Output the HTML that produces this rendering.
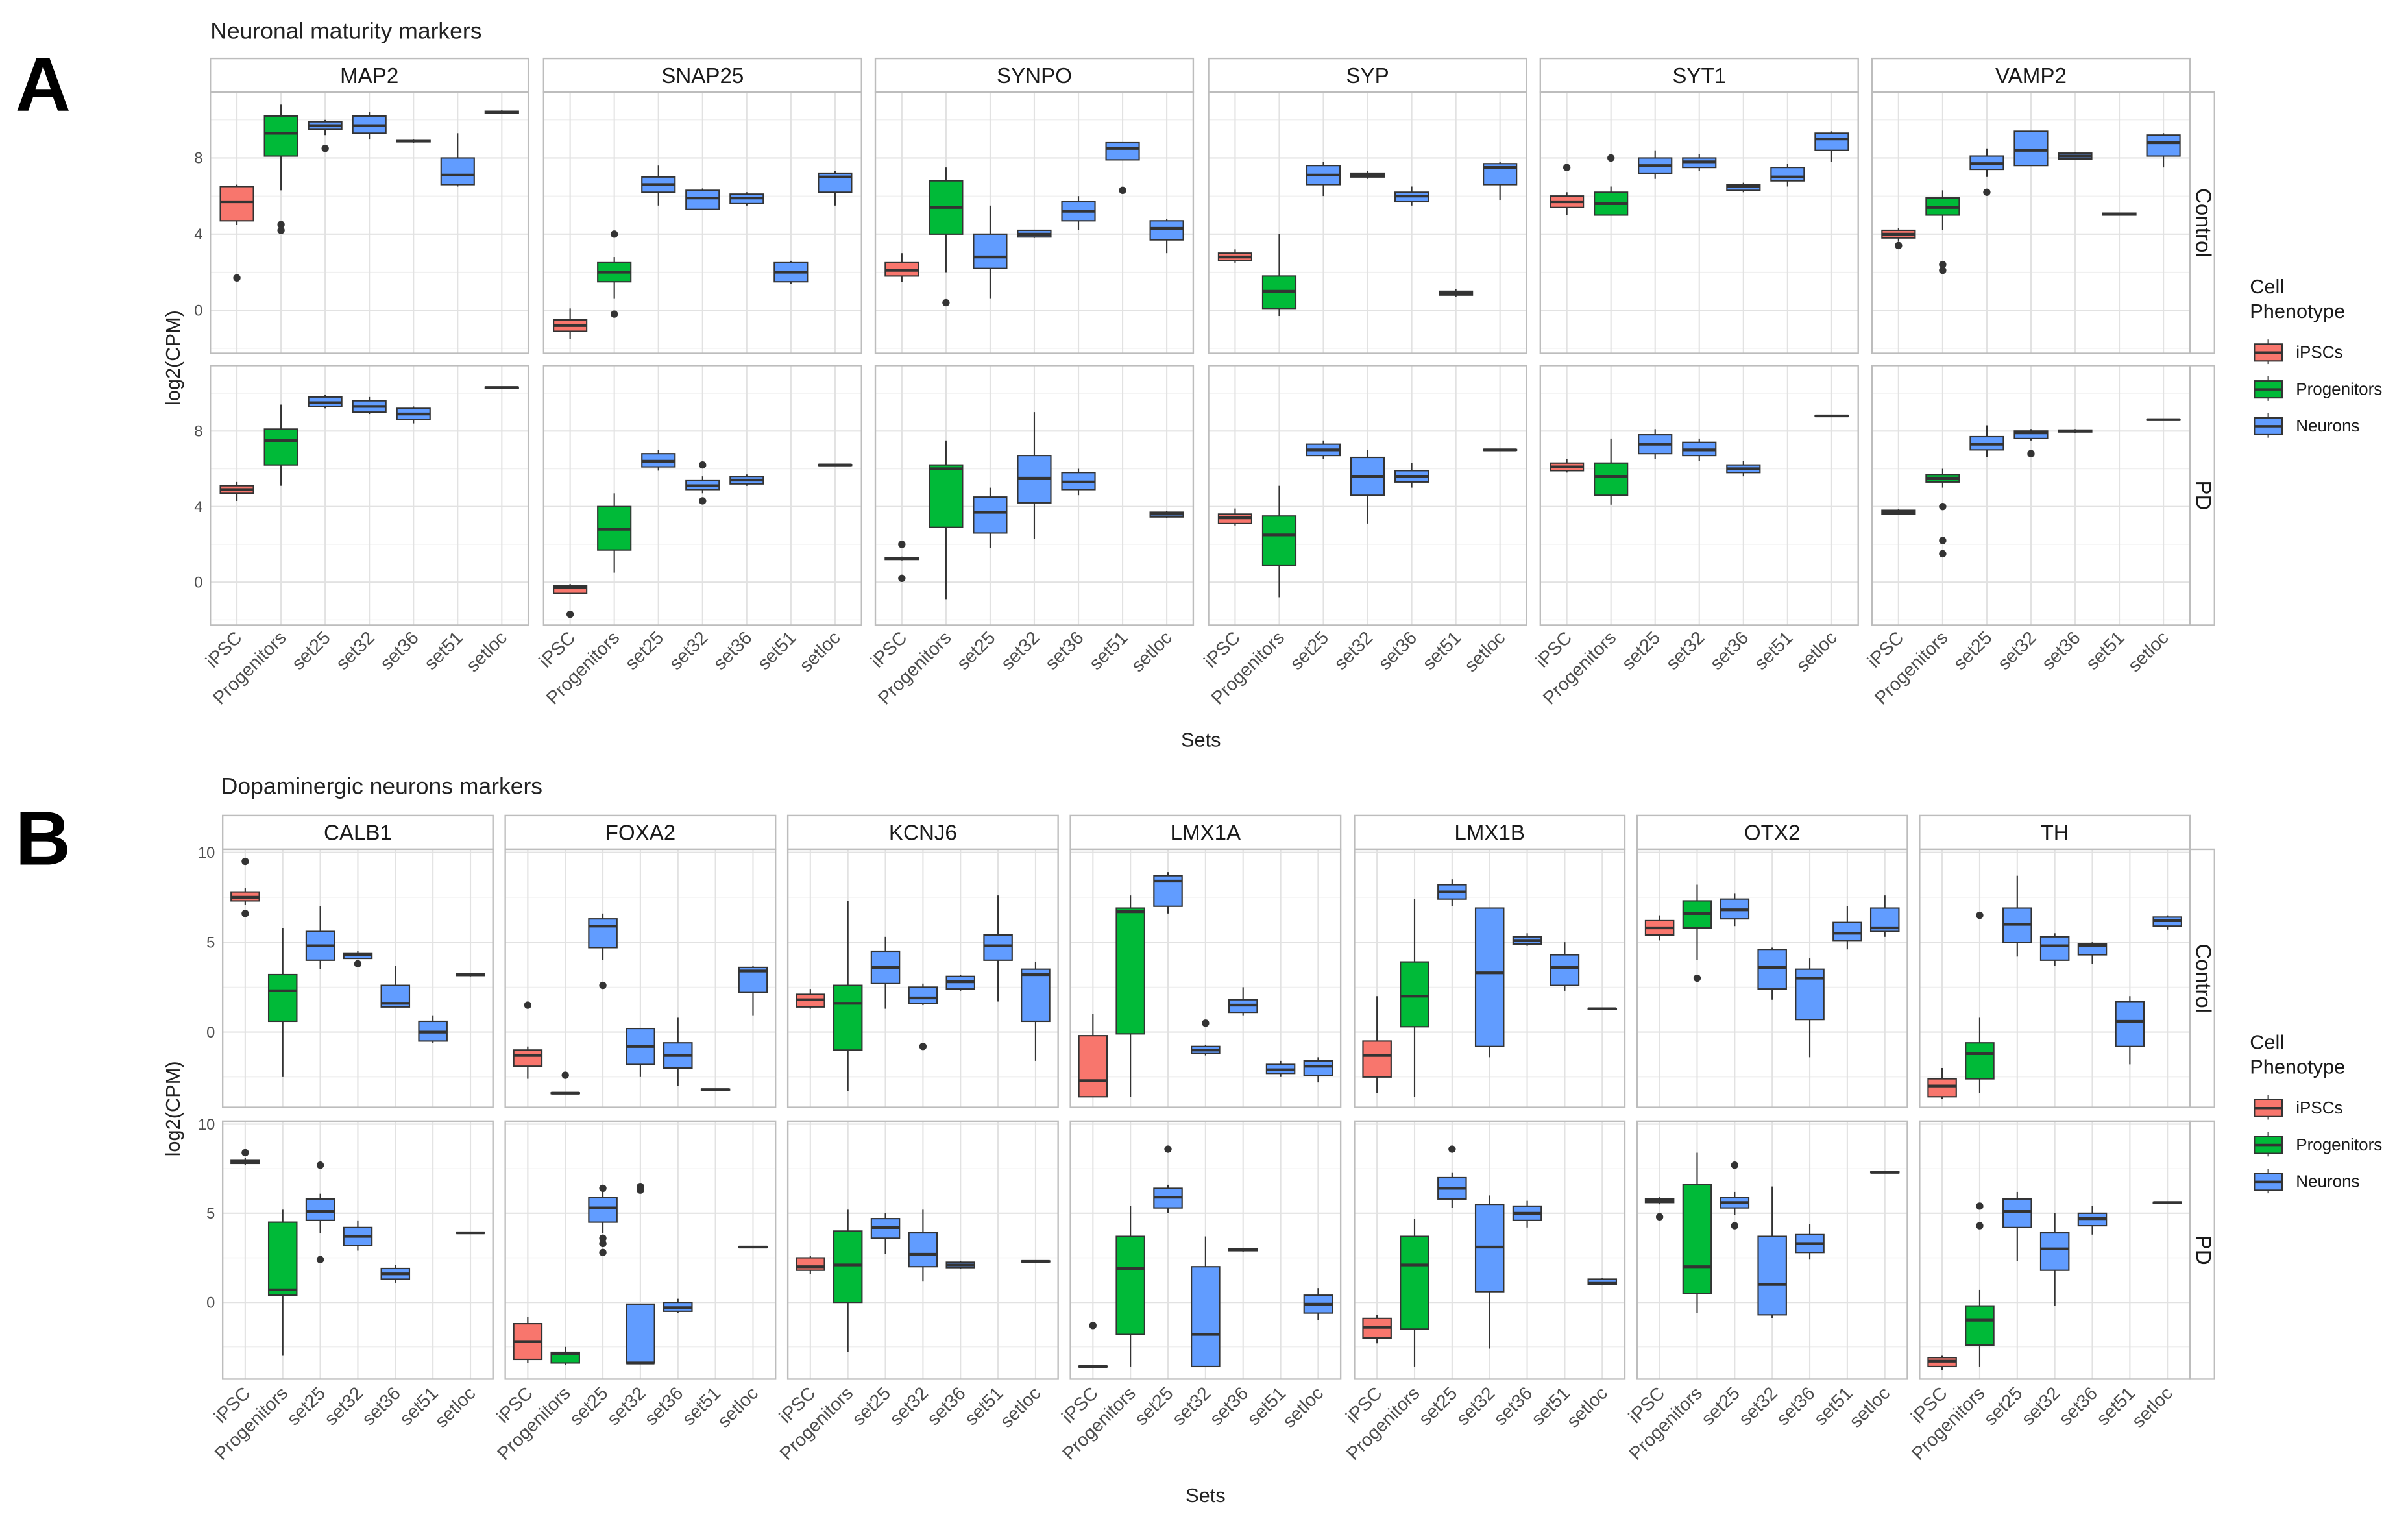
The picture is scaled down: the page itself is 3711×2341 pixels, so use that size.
<!DOCTYPE html>
<html><head><meta charset="utf-8">
<style>
html,body{margin:0;padding:0;background:#fff;}
svg{display:block;font-family:"Liberation Sans",sans-serif;}
</style></head>
<body>
<svg id="chart" width="3711" height="2341" viewBox="0 0 1568 989" xmlns="http://www.w3.org/2000/svg">
<text x="10" y="72" font-size="50" font-weight="bold">A</text>
<text x="10" y="563" font-size="50" font-weight="bold">B</text>
<text x="137" y="25" font-size="15" fill="#222">Neuronal maturity markers</text>
<text x="144" y="517" font-size="15" fill="#222">Dopaminergic neurons markers</text>
<text x="782" y="486" font-size="13" text-anchor="middle" fill="#222">Sets</text>
<text x="785" y="978" font-size="13" text-anchor="middle" fill="#222">Sets</text>
<text transform="translate(117,233) rotate(-90)" font-size="13" text-anchor="middle" fill="#222">log2(CPM)</text>
<text transform="translate(117,722) rotate(-90)" font-size="13" text-anchor="middle" fill="#222">log2(CPM)</text>
<g id="plots"></g>
</svg>
<script>
// Categories
const categories = ["iPSC","Progenitors","set25","set32","set36","set51","setloc"];
const catGroup = [0,1,2,2,2,2,2];
const groupNames = ["iPSCs","Progenitors","Neurons"];
const groupColors = ["#F8766D","#00BA38","#619CFF"];
const genesA = ["MAP2","SNAP25","SYNPO","SYP","SYT1","VAMP2"];
const genesB = ["CALB1","FOXA2","KCNJ6","LMX1A","LMX1B","OTX2","TH"];
const ticksA = [0,4,8];
const ticksB = [0,5,10];
// each box: [min, q1, median, q3, max, outliers]
const A_ctrl_MAP2 = [[4.5,4.7,5.7,6.5,6.6,[1.7]],[6.3,8.1,9.3,10.2,10.8,[4.5,4.2]],[9.2,9.5,9.7,9.9,10,[8.5]],[9,9.3,9.7,10.2,10.4,[]],[8.8,8.85,8.9,8.95,9,[]],[6.5,6.6,7.1,8,9.3,[]],[10.3,10.35,10.4,10.45,10.5,[]]];
const A_ctrl_SNAP25 = [[-1.5,-1.1,-0.8,-0.5,0.1,[]],[0.6,1.5,2,2.5,2.8,[4,-0.2]],[5.5,6.2,6.6,7,7.6,[]],[5.3,5.3,5.9,6.3,6.4,[]],[5.5,5.6,5.9,6.1,6.2,[]],[1.4,1.5,2,2.5,2.6,[]],[5.5,6.2,7,7.2,7.3,[]]];
const A_ctrl_SYNPO = [[1.5,1.8,2.1,2.5,3,[]],[2,4,5.4,6.8,7.5,[0.4]],[0.6,2.2,2.8,4,5.5,[]],[3.8,3.85,4,4.2,4.2,[]],[4.2,4.7,5.2,5.7,6,[]],[7.9,7.9,8.5,8.8,8.8,[6.3]],[3,3.7,4.3,4.7,4.8,[]]];
const A_ctrl_SYP = [[2.5,2.6,2.8,3,3.2,[]],[-0.3,0.1,1,1.8,4,[]],[6,6.6,7.1,7.6,7.8,[]],[6.9,7,7.1,7.2,7.3,[]],[5.5,5.7,6,6.2,6.5,[]],[0.7,0.8,0.9,1,1.1,[]],[5.8,6.6,7.5,7.7,7.8,[]]];
const A_ctrl_SYT1 = [[5,5.4,5.7,6,6.2,[7.5]],[5,5,5.6,6.2,6.5,[8]],[6.9,7.2,7.6,8,8.4,[]],[7.3,7.5,7.8,8,8.2,[]],[6.2,6.3,6.5,6.6,6.7,[]],[6.5,6.8,7,7.5,7.7,[]],[7.8,8.4,9,9.3,9.4,[]]];
const A_ctrl_VAMP2 = [[3.6,3.8,4,4.2,4.3,[3.4]],[4.2,5,5.4,5.9,6.3,[2.4,2.1]],[7,7.4,7.7,8.1,8.5,[6.2]],[7.6,7.6,8.4,9.4,9.4,[]],[7.9,7.95,8.1,8.25,8.3,[]],[5,5,5.05,5.1,5.1,[]],[7.5,8.1,8.8,9.2,9.3,[]]];
const A_pd_MAP2 = [[4.3,4.7,4.9,5.1,5.3,[]],[5.1,6.2,7.5,8.1,9.4,[]],[9.2,9.3,9.5,9.8,9.9,[]],[8.9,9,9.3,9.6,9.8,[]],[8.4,8.6,8.9,9.2,9.3,[]],null,[10.25,10.28,10.3,10.32,10.35,[]]];
const A_pd_SNAP25 = [[-0.6,-0.6,-0.3,-0.2,-0.1,[-1.7]],[0.5,1.7,2.8,4,4.7,[]],[5.9,6.1,6.4,6.8,7,[]],[4.7,4.9,5.1,5.4,5.6,[6.2,4.3]],[5.1,5.2,5.4,5.6,5.7,[]],null,[6.15,6.18,6.2,6.22,6.25,[]]];
const A_pd_SYNPO = [[1.15,1.2,1.25,1.3,1.35,[2,0.2]],[-0.9,2.9,6,6.2,7.5,[]],[1.8,2.6,3.7,4.5,5,[]],[2.3,4.2,5.5,6.7,9,[]],[4.6,4.9,5.3,5.8,6,[]],null,[3.4,3.45,3.6,3.7,3.75,[]]];
const A_pd_SYP = [[3,3.1,3.4,3.6,3.9,[]],[-0.8,0.9,2.5,3.5,5.1,[]],[6.5,6.7,7,7.3,7.5,[]],[3.1,4.6,5.6,6.6,7,[]],[5,5.3,5.6,5.9,6.3,[]],null,[6.95,6.98,7,7.02,7.05,[]]];
const A_pd_SYT1 = [[5.8,5.9,6.1,6.3,6.5,[]],[4.1,4.6,5.6,6.3,7.6,[]],[6.5,6.8,7.3,7.8,8.1,[]],[6.4,6.7,7,7.4,7.6,[]],[5.6,5.8,6,6.2,6.4,[]],null,[8.75,8.78,8.8,8.82,8.85,[]]];
const A_pd_VAMP2 = [[3.55,3.6,3.7,3.8,3.85,[]],[5,5.3,5.5,5.7,6,[4,2.2,1.5]],[6.6,7,7.3,7.7,8.3,[]],[7.5,7.6,7.9,8,8.1,[6.8]],[7.9,7.95,8,8.05,8.1,[]],null,[8.55,8.58,8.6,8.62,8.65,[]]];
const B_ctrl_CALB1 = [[7.1,7.3,7.5,7.8,8,[9.5,6.6]],[-2.5,0.6,2.3,3.2,5.8,[]],[3.5,4,4.8,5.6,7,[]],[4.1,4.1,4.3,4.4,4.5,[3.8]],[1.4,1.4,1.6,2.6,3.7,[]],[-0.6,-0.5,0,0.6,0.9,[]],[3.1,3.15,3.2,3.25,3.3,[]]];
const B_ctrl_FOXA2 = [[-2.6,-1.9,-1.3,-1,-0.8,[1.5]],[-3.45,-3.42,-3.4,-3.38,-3.35,[-2.4]],[4,4.7,5.9,6.3,6.6,[2.6]],[-2.5,-1.8,-0.8,0.2,0.2,[]],[-3,-2,-1.3,-0.6,0.8,[]],[-3.25,-3.22,-3.2,-3.18,-3.15,[]],[0.9,2.2,3.4,3.6,3.7,[]]];
const B_ctrl_KCNJ6 = [[1.3,1.4,1.8,2.1,2.4,[]],[-3.3,-1,1.6,2.6,7.3,[]],[1.3,2.7,3.6,4.5,5.3,[]],[1.5,1.6,1.9,2.5,2.7,[-0.8]],[2.3,2.4,2.8,3.1,3.2,[]],[1.7,4,4.8,5.4,7.6,[]],[-1.6,0.6,3.2,3.5,3.9,[]]];
const B_ctrl_LMX1A = [[-3.6,-3.6,-2.7,-0.2,1,[]],[-3.6,-0.1,6.7,6.9,7.6,[]],[6.6,7,8.4,8.7,8.9,[]],[-1.3,-1.2,-1,-0.8,-0.7,[0.5]],[0.9,1.1,1.5,1.8,2.5,[]],[-2.5,-2.3,-2.1,-1.8,-1.6,[]],[-2.8,-2.4,-1.9,-1.6,-1.4,[]]];
const B_ctrl_LMX1B = [[-3.4,-2.5,-1.3,-0.5,2,[]],[-3.6,0.3,2,3.9,7.4,[]],[7,7.4,7.8,8.2,8.5,[]],[-1.4,-0.8,3.3,6.9,6.9,[]],[4.8,4.9,5.1,5.3,5.5,[]],[2.3,2.6,3.6,4.3,5,[]],[1.25,1.28,1.3,1.32,1.35,[]]];
const B_ctrl_OTX2 = [[5.1,5.4,5.8,6.2,6.5,[]],[4,5.8,6.6,7.3,8.2,[3]],[5.9,6.3,6.8,7.4,7.7,[]],[1.8,2.4,3.6,4.6,4.7,[]],[-1.4,0.7,3,3.5,4.1,[]],[4.6,5.1,5.5,6.1,7,[]],[5.3,5.6,5.8,6.9,7.6,[]]];
const B_ctrl_TH = [[-3.7,-3.6,-3,-2.6,-2,[]],[-3.4,-2.6,-1.2,-0.6,0.8,[6.5]],[4.2,5,6,6.9,8.7,[]],[3.7,4,4.8,5.3,5.5,[]],[3.8,4.3,4.8,4.9,5,[]],[-1.8,-0.8,0.6,1.7,2,[]],[5.7,5.9,6.2,6.4,6.5,[]]];
const B_pd_CALB1 = [[7.7,7.8,7.9,8,8.1,[8.4]],[-3,0.4,0.7,4.5,5.2,[]],[3.9,4.6,5.1,5.8,6.1,[7.7,2.4]],[2.9,3.2,3.7,4.2,4.6,[]],[1.1,1.3,1.6,1.9,2.1,[]],null,[3.85,3.88,3.9,3.92,3.95,[]]];
const B_pd_FOXA2 = [[-3.4,-3.2,-2.2,-1.2,-0.8,[]],[-3.5,-3.4,-2.9,-2.8,-2.5,[]],[3.9,4.5,5.3,5.9,6.2,[3.6,3.3,2.8,6.4]],[-3.4,-3.4,-3.4,-0.1,-0.1,[6.3,6.5]],[-0.6,-0.5,-0.3,0,0.2,[]],null,[3.05,3.08,3.1,3.12,3.15,[]]];
const B_pd_KCNJ6 = [[1.6,1.8,2,2.5,2.6,[]],[-2.8,0,2.1,4,5.2,[]],[2.7,3.6,4.2,4.7,5,[]],[1.2,2,2.7,3.9,5.2,[]],[1.9,1.95,2.1,2.25,2.3,[]],null,[2.25,2.28,2.3,2.32,2.35,[]]];
const B_pd_LMX1A = [[-3.65,-3.62,-3.6,-3.58,-3.55,[-1.3]],[-3.6,-1.8,1.9,3.7,5.4,[]],[5,5.3,5.9,6.4,6.6,[8.6]],[-3.6,-3.6,-1.8,2,3.7,[]],[2.85,2.9,2.95,3,3.05,[]],null,[-1,-0.6,-0.1,0.4,0.8,[]]];
const B_pd_LMX1B = [[-2.3,-2,-1.4,-0.9,-0.7,[]],[-3.6,-1.5,2.1,3.7,4.7,[]],[5.3,5.8,6.4,7,7.3,[8.6]],[-2.6,0.6,3.1,5.5,6,[]],[4.2,4.6,5,5.4,5.7,[]],null,[0.95,1,1.1,1.3,1.35,[]]];
const B_pd_OTX2 = [[5.5,5.6,5.7,5.8,5.9,[4.8]],[-0.6,0.5,2,6.6,8.4,[]],[4.9,5.3,5.6,5.9,6.2,[7.7,4.3]],[-0.9,-0.7,1,3.7,6.5,[]],[2.4,2.8,3.3,3.8,4.4,[]],null,[7.25,7.28,7.3,7.32,7.35,[]]];
const B_pd_TH = [[-3.8,-3.6,-3.3,-3.1,-3,[]],[-3.6,-2.4,-1,-0.2,0.7,[4.3,5.4]],[2.3,4.2,5.1,5.8,6.2,[]],[-0.2,1.8,3,3.9,5,[]],[3.8,4.3,4.7,5,5.4,[]],null,[5.55,5.58,5.6,5.62,5.65,[]]];

const NS="http://www.w3.org/2000/svg";
const root=document.getElementById('plots');
function mk(tag,attrs,parent){const e=document.createElementNS(NS,tag);for(const k in attrs)e.setAttribute(k,attrs[k]);(parent||root).appendChild(e);return e;}

function drawFigure(genes,data,facetX,facetW,rows,ticks,stripTop,rightStripX,labelY,pfx){
  genes.forEach((g,gi)=>{
    const x0=facetX[gi], w=facetW;
    const strip=mk('rect',{x:x0,y:stripTop,width:w,height:22,fill:'#fff',stroke:'#bdbdbd','stroke-width':1});
    
    
    const st=mk('text',{x:x0+w/2,y:stripTop+16,'font-size':14,'text-anchor':'middle',fill:'#1a1a1a'});
    st.textContent=g;
    
    
    const xs=i=>x0+w*(i+0.6)/7.2;
    const hw=0.375*w/7.2;
    rows.forEach((r,ri)=>{
      const ys=v=>r.zero-v*r.ppu;
      const pg=mk('g',{});
      
      
      mk('rect',{x:x0,y:r.top,width:w,height:r.bottom-r.top,fill:'#fff'},pg);
      for(let t=ticks[0]-(ticks[1]-ticks[0])/2;t<=ticks[2]+(ticks[1]-ticks[0]);t+=(ticks[1]-ticks[0])/2){
        const y=ys(t); if(y<r.top||y>r.bottom) continue;
        const major=ticks.indexOf(t)>=0;
        mk('line',{x1:x0,x2:x0+w,y1:y,y2:y,stroke:major?'#e2e2e2':'#f0f0f0','stroke-width':major?0.9:0.6},pg);
      }
      categories.forEach((c,i)=>mk('line',{x1:xs(i),x2:xs(i),y1:r.top,y2:r.bottom,stroke:'#e2e2e2','stroke-width':0.9},pg));
      data[ri][gi].forEach((b,i)=>{
        if(!b) return;
        const bg=mk('g',{},pg);
        
        
        const cx=xs(i);
        mk('line',{x1:cx,x2:cx,y1:ys(b[4]),y2:ys(b[3]),stroke:'#333','stroke-width':0.9},bg);
        mk('line',{x1:cx,x2:cx,y1:ys(b[1]),y2:ys(b[0]),stroke:'#333','stroke-width':0.9},bg);
        mk('rect',{x:cx-hw,y:ys(b[3]),width:2*hw,height:Math.max(0.5,ys(b[1])-ys(b[3])),fill:groupColors[catGroup[i]],stroke:'#333','stroke-width':0.9},bg);
        mk('line',{x1:cx-hw,x2:cx+hw,y1:ys(b[2]),y2:ys(b[2]),stroke:'#333','stroke-width':1.8},bg);
        b[5].forEach(o=>mk('circle',{cx:cx,cy:ys(o),r:2.4,fill:'#333'},bg));
      });
      mk('rect',{x:x0,y:r.top,width:w,height:r.bottom-r.top,fill:'none',stroke:'#bdbdbd','stroke-width':1},pg);
      if(gi===0){
        ticks.forEach(t=>{
          const tl=mk('text',{x:x0-5,y:ys(t)+3.5,'font-size':10,'text-anchor':'end',fill:'#4d4d4d'});
          tl.textContent=t;
          
          
        });
      }
      if(gi===genes.length-1){
        mk('rect',{x:rightStripX,y:r.top,width:16,height:r.bottom-r.top,fill:'#fff',stroke:'#bdbdbd','stroke-width':1});
        const rl=mk('text',{transform:'translate('+(rightStripX+4)+','+((r.top+r.bottom)/2)+') rotate(90)','font-size':14,'text-anchor':'middle',fill:'#1a1a1a'});
        rl.textContent=r.label;
        
        
      }
    });
    categories.forEach((c,i)=>{
      const tx=mk('text',{transform:'translate('+(xs(i)+4)+','+labelY+') rotate(-45)','font-size':12,'text-anchor':'end',fill:'#4d4d4d'});
      tx.textContent=c;
      
      
    });
  });
}
function drawLegend(x,y,pfx){
  const lg=mk('g',{});
  
  
  const t1=mk('text',{x:x,y:y,'font-size':13,fill:'#1a1a1a'},lg); t1.textContent='Cell';
  const t2=mk('text',{x:x,y:y+16,'font-size':13,fill:'#1a1a1a'},lg); t2.textContent='Phenotype';
  groupNames.forEach((n,i)=>{
    const ky=y+30+i*24;
    const eg=mk('g',{},lg);
    
    
    mk('line',{x1:x+12,x2:x+12,y1:ky,y2:ky+16,stroke:'#333','stroke-width':0.9},eg);
    mk('rect',{x:x+3,y:ky+3,width:18,height:11,fill:groupColors[i],stroke:'#333','stroke-width':0.9},eg);
    mk('line',{x1:x+3,x2:x+21,y1:ky+8.5,y2:ky+8.5,stroke:'#333','stroke-width':1.5},eg);
    const lt=mk('text',{x:x+30,y:ky+12,'font-size':11,fill:'#1a1a1a'},eg); lt.textContent=n;
  });
}
const dataA=[[A_ctrl_MAP2,A_ctrl_SNAP25,A_ctrl_SYNPO,A_ctrl_SYP,A_ctrl_SYT1,A_ctrl_VAMP2],[A_pd_MAP2,A_pd_SNAP25,A_pd_SYNPO,A_pd_SYP,A_pd_SYT1,A_pd_VAMP2]];
const dataB=[[B_ctrl_CALB1,B_ctrl_FOXA2,B_ctrl_KCNJ6,B_ctrl_LMX1A,B_ctrl_LMX1B,B_ctrl_OTX2,B_ctrl_TH],[B_pd_CALB1,B_pd_FOXA2,B_pd_KCNJ6,B_pd_LMX1A,B_pd_LMX1B,B_pd_OTX2,B_pd_TH]];
drawFigure(genesA,dataA,[137,354,570,787,1003,1219],207,
  [{name:'control',label:'Control',top:60,bottom:230,zero:202,ppu:12.4},{name:'pd',label:'PD',top:238,bottom:407,zero:379,ppu:12.3}],
  ticksA,38,1426,416,'a');
drawFigure(genesB,dataB,[145,329,513,697,882,1066,1250],176,
  [{name:'control',label:'Control',top:553,bottom:721,zero:672,ppu:11.7},{name:'pd',label:'PD',top:730,bottom:898,zero:848,ppu:11.6}],
  ticksB,531,1426,908,'b');
drawLegend(1465,191,'a');
drawLegend(1465,683,'b');
</script>
</body></html>
